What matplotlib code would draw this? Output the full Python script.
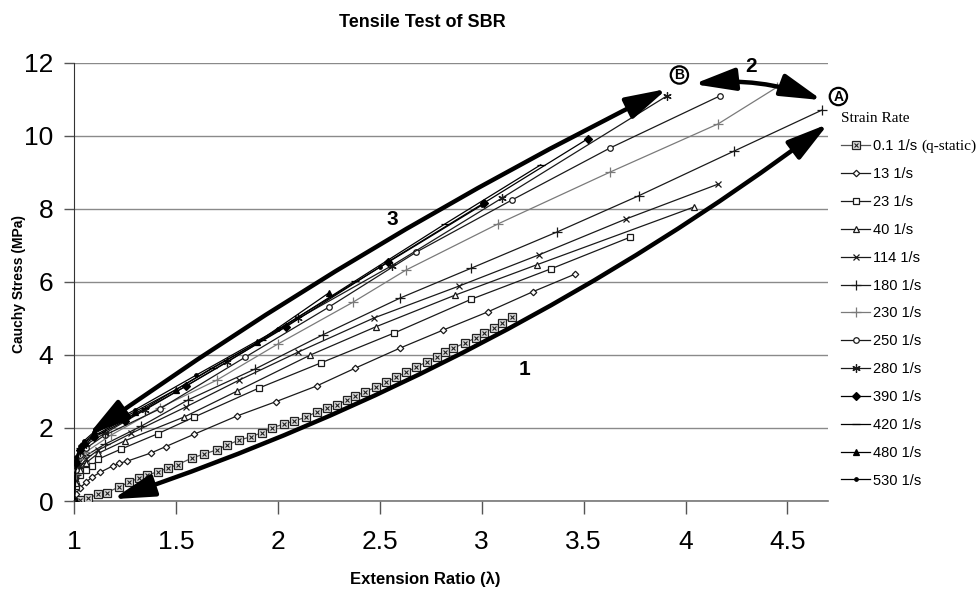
import matplotlib
matplotlib.use("Agg")
import matplotlib.pyplot as plt
from matplotlib.patches import FancyArrowPatch

narrow = ["Liberation Sans Narrow", "Liberation Sans", "DejaVu Sans"]
plt.rcParams["font.family"] = narrow

# ---- data (extension ratio, Cauchy stress MPa) ----
x_q = [1.00, 1.03, 1.07, 1.12, 1.16, 1.22, 1.27, 1.32, 1.36, 1.41, 1.46, 1.51, 1.58, 1.64, 1.70,
       1.75, 1.81, 1.87, 1.92, 1.97, 2.03, 2.08, 2.14, 2.19, 2.24, 2.29, 2.34, 2.38, 2.43, 2.48,
       2.53, 2.58, 2.63, 2.68, 2.73, 2.78, 2.82, 2.86, 2.92, 2.97, 3.01, 3.06, 3.10, 3.15]
y_q = [0.00, 0.04, 0.08, 0.19, 0.23, 0.38, 0.52, 0.63, 0.71, 0.80, 0.90, 1.00, 1.18, 1.29, 1.40,
       1.53, 1.67, 1.76, 1.87, 2.00, 2.11, 2.19, 2.30, 2.44, 2.55, 2.63, 2.77, 2.88, 2.99, 3.12,
       3.25, 3.39, 3.53, 3.67, 3.81, 3.95, 4.07, 4.19, 4.33, 4.47, 4.60, 4.74, 4.88, 5.03]

x_13 = [1.00, 1.01, 1.03, 1.06, 1.09, 1.13, 1.19, 1.22, 1.26, 1.38, 1.45, 1.59, 1.80, 1.99, 2.19,
        2.38, 2.60, 2.81, 3.03, 3.25, 3.46]
y_13 = [0.00, 0.20, 0.36, 0.52, 0.66, 0.79, 0.96, 1.03, 1.09, 1.32, 1.49, 1.83, 2.33, 2.72, 3.15,
        3.64, 4.19, 4.68, 5.18, 5.73, 6.22]

x_23 = [1.00, 1.01, 1.03, 1.06, 1.09, 1.12, 1.23, 1.41, 1.59, 1.91, 2.21, 2.57, 2.95, 3.34, 3.73]
y_23 = [0.00, 0.40, 0.70, 0.85, 0.96, 1.15, 1.42, 1.84, 2.30, 3.10, 3.78, 4.60, 5.53, 6.36, 7.23]

x_40 = [1.00, 1.01, 1.03, 1.06, 1.12, 1.25, 1.54, 1.80, 2.16, 2.48, 2.87, 3.27, 4.04]
y_40 = [0.00, 0.50, 0.85, 1.05, 1.31, 1.65, 2.30, 3.01, 4.00, 4.77, 5.64, 6.47, 8.05]

x_114 = [1.00, 1.01, 1.03, 1.06, 1.12, 1.28, 1.55, 1.81, 2.10, 2.47, 2.89, 3.28, 3.71, 4.16]
y_114 = [0.00, 0.60, 0.95, 1.15, 1.40, 1.85, 2.58, 3.31, 4.08, 5.01, 5.89, 6.74, 7.73, 8.68]

x_180 = [1.00, 1.01, 1.03, 1.06, 1.15, 1.33, 1.56, 1.89, 2.22, 2.60, 2.95, 3.37, 3.77, 4.24, 4.67]
y_180 = [0.00, 0.70, 1.05, 1.25, 1.55, 2.05, 2.77, 3.62, 4.55, 5.56, 6.38, 7.37, 8.36, 9.59, 10.71]

x_230 = [1.00, 1.01, 1.03, 1.06, 1.18, 1.42, 1.70, 2.00, 2.37, 2.63, 3.08, 3.63, 4.16, 4.45]
y_230 = [0.00, 0.75, 1.15, 1.35, 1.80, 2.55, 3.31, 4.30, 5.45, 6.33, 7.59, 9.01, 10.33, 11.34]

x_250 = [1.00, 1.01, 1.03, 1.06, 1.15, 1.42, 1.84, 2.25, 2.68, 3.15, 3.63, 4.17]
y_250 = [0.00, 0.85, 1.25, 1.45, 1.80, 2.52, 3.94, 5.31, 6.82, 8.25, 9.67, 11.10]

x_280 = [1.00, 1.01, 1.03, 1.06, 1.15, 1.35, 1.75, 2.10, 2.56, 3.10, 3.91]
y_280 = [0.00, 1.00, 1.35, 1.55, 1.85, 2.50, 3.80, 5.00, 6.45, 8.30, 11.10]

x_390 = [1.00, 1.01, 1.03, 1.05, 1.10, 1.25, 1.55, 2.04, 2.54, 3.01, 3.52]
y_390 = [0.00, 1.05, 1.40, 1.55, 1.75, 2.20, 3.15, 4.77, 6.55, 8.16, 9.92]

x_420 = [1.00, 1.01, 1.03, 1.05, 1.12, 1.35, 1.68, 1.92, 2.38, 2.82, 3.29]
y_420 = [0.00, 1.10, 1.45, 1.60, 1.85, 2.55, 3.65, 4.40, 6.03, 7.59, 9.21]

x_480 = [1.00, 1.01, 1.03, 1.05, 1.10, 1.30, 1.50, 1.90, 2.25]
y_480 = [0.00, 1.15, 1.45, 1.60, 1.85, 2.45, 3.05, 4.35, 5.70]

x_530 = [1.00, 1.01, 1.03, 1.05, 1.10, 1.30, 1.60, 2.00, 2.50, 3.00]
y_530 = [0.00, 1.20, 1.50, 1.65, 1.90, 2.50, 3.45, 4.70, 6.40, 8.10]

labels = ["13 1/s", "23 1/s", "40 1/s", "114 1/s", "180 1/s", "230 1/s", "250 1/s",
          "280 1/s", "390 1/s", "420 1/s", "480 1/s", "530 1/s"]
xs = [x_13, x_23, x_40, x_114, x_180, x_230, x_250, x_280, x_390, x_420, x_480, x_530]
ys = [y_13, y_23, y_40, y_114, y_180, y_230, y_250, y_280, y_390, y_420, y_480, y_530]

xticks = [1, 1.5, 2, 2.5, 3, 3.5, 4, 4.5]
xtick_labels = ["1", "1.5", "2", "2.5", "3", "3.5", "4", "4.5"]
yticks = [0, 2, 4, 6, 8, 10, 12]

# marker, size, face, line colour
styles = [
    ("D", 3.3, "white", "#1a1a1a"),
    ("s", 4, "white", "#1a1a1a"),
    ("^", 4.5, "white", "#1a1a1a"),
    ("x", 5, "none", "#1a1a1a"),
    ("+", 7, "none", "#1a1a1a"),
    ("+", 7, "none", "#7a7a7a"),
    ("o", 4, "white", "#1a1a1a"),
    ((6, 2, 0), 6, "none", "#1a1a1a"),
    ("D", 4, "#000000", "#000000"),
    ("_", 6, "none", "#000000"),
    ("^", 4.5, "#000000", "#000000"),
    ("o", 2.5, "#000000", "#000000"),
]

fig = plt.figure(figsize=(9.77, 5.92), dpi=100)
ax = fig.add_axes([0.0757, 0.1537, 0.772, 0.74])

handles = []
q1, = ax.plot(x_q, y_q, color="#555555", lw=0.9, marker="s", ms=5.5,
              mfc="#dddddd", mec="#222222", mew=0.9, zorder=3)
q2, = ax.plot(x_q, y_q, ls="none", marker="x", ms=3.2, mec="#222222", mew=0.8, zorder=4)
handles.append((q1, q2))

for xv, yv, lab, (m, ms, fc, c) in zip(xs, ys, labels, styles):
    h, = ax.plot(xv, yv, color=c, lw=0.9, marker=m, ms=ms, mfc=fc, mec=c, mew=0.9,
                 label=lab, zorder=3)
    handles.append(h)

ax.set_xlim(1, 4.7)
ax.set_ylim(0, 12)
ax.set_xticks(xticks)
ax.set_xticklabels(xtick_labels)
ax.set_yticks(yticks)
ax.tick_params(axis="x", labelsize=19, length=9, width=1, color="#555555", pad=12)
ax.tick_params(axis="y", labelsize=19, length=7, width=1, color="#555555", pad=8)
ax.yaxis.grid(True, color="#8a8a8a", lw=1)
ax.set_axisbelow(True)
for s in ["top", "right"]:
    ax.spines[s].set_visible(False)
ax.spines["left"].set_color("#333333")
ax.spines["bottom"].set_color("#777777")
ax.spines["bottom"].set_linewidth(1.2)

# thick annotation arrows
arrow_kw = dict(arrowstyle="<|-|>,head_length=1.4,head_width=0.38", mutation_scale=18,
                color="black", lw=3.2, clip_on=False, zorder=6, shrinkA=0, shrinkB=0)
ax.add_patch(FancyArrowPatch((1.19, 0.05), (4.70, 10.33),
                             connectionstyle="arc3,rad=0.08", **arrow_kw))
ax.add_patch(FancyArrowPatch((1.07, 1.81), (3.91, 11.29),
                             connectionstyle="arc3,rad=-0.04", **arrow_kw))
ax.add_patch(FancyArrowPatch((4.04, 11.42), (4.67, 10.98),
                             connectionstyle="arc3,rad=-0.12", **arrow_kw))

ax.text(3.21, 3.59, "1", fontsize=15, fontweight="bold", ha="center", va="center")
ax.text(4.32, 11.9, "2", fontsize=15, fontweight="bold", ha="center", va="center", clip_on=False)
ax.text(2.56, 7.7, "3", fontsize=15, fontweight="bold", ha="center", va="center")
for lx, ly, t in [(3.97, 11.67, "B"), (4.75, 11.08, "A")]:
    ax.text(lx, ly, t, fontsize=10, fontweight="bold", ha="center", va="center", clip_on=False,
            family=["Liberation Sans", "DejaVu Sans"],
            bbox=dict(boxstyle="circle,pad=0.12", fc="white", ec="black", lw=1.6))

# titles
fig.text(0.432, 0.962, "Tensile Test of SBR", fontsize=13, fontweight="bold",
         ha="center", va="center")
fig.text(0.435, 0.022, "Extension Ratio (\u03bb)", fontsize=12, fontweight="bold",
         ha="center", va="center")
fig.text(0.019, 0.52, "Cauchy Stress (MPa)", fontsize=10, fontweight="bold", rotation=90,
         ha="center", va="center", family=["Liberation Sans", "DejaVu Sans"])

# legend
leg = ax.legend(handles, ["0.1 1/s"] + labels, loc="upper left",
                bbox_to_anchor=(0.861, 0.81), bbox_transform=fig.transFigure,
                frameon=False, fontsize=10.5, handlelength=2.0, handletextpad=0.2,
                labelspacing=0.95, borderpad=0, borderaxespad=0,
                title="Strain Rate", alignment="left",
                title_fontproperties={"family": ["Liberation Serif", "DejaVu Serif"], "size": 11})

fig.canvas.draw()
bb = leg.get_texts()[0].get_window_extent()
fx, fy = fig.transFigure.inverted().transform((bb.x1, (bb.y0 + bb.y1) / 2))
fig.text(fx + 0.004, fy, "(q-static)", fontsize=11, va="center", ha="left",
         family=["Liberation Serif", "DejaVu Serif"])

fig.savefig("out.png", dpi=100)
